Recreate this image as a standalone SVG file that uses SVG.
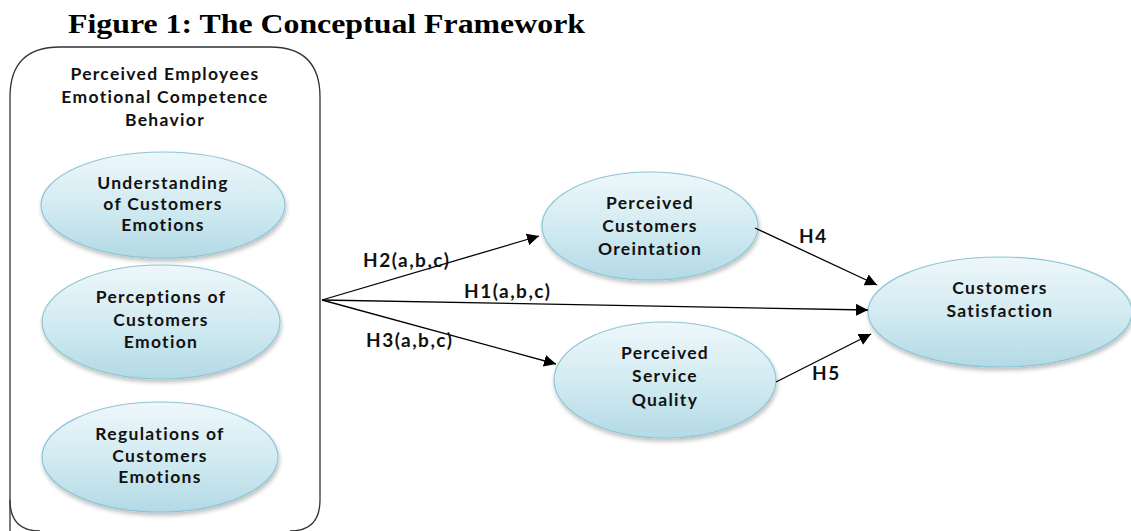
<svg xmlns="http://www.w3.org/2000/svg" width="1131" height="531" viewBox="0 0 1131 531">
<defs>
<linearGradient id="g" x1="0" y1="0" x2="0" y2="1">
<stop offset="0" stop-color="#eef7fa"/>
<stop offset="0.5" stop-color="#d3ebf2"/>
<stop offset="1" stop-color="#b3dae5"/>
</linearGradient>
<filter id="sh" x="-10%" y="-10%" width="125%" height="130%">
<feGaussianBlur in="SourceAlpha" stdDeviation="2"/>
<feOffset dx="1" dy="3"/>
<feComponentTransfer><feFuncA type="linear" slope="0.25"/></feComponentTransfer>
<feMerge><feMergeNode/><feMergeNode in="SourceGraphic"/></feMerge>
</filter>
<marker id="ah" viewBox="0 0 10 10" refX="10" refY="5" markerWidth="12" markerHeight="12" markerUnits="userSpaceOnUse" orient="auto">
<path d="M0,0 L10,5 L0,10 z" fill="#000"/>
</marker>
</defs>
<style>
.el{fill:url(#g);stroke:#8cc6d6;stroke-width:1.2;filter:url(#sh)}
.t{font-family:Lato,"Open Sans","Liberation Sans",sans-serif;font-weight:bold;font-size:17.5px;letter-spacing:1.3px;fill:#111;text-anchor:middle}
.lb{font-family:Lato,"Open Sans","Liberation Sans",sans-serif;font-weight:bold;font-size:19px;letter-spacing:1.5px;fill:#111}
.c{stroke:#000;stroke-width:1.3;fill:none;marker-end:url(#ah)}
</style>
<rect width="1131" height="531" fill="#fff"/>
<text x="68" y="33" font-family="Liberation Serif,serif" font-weight="bold" font-size="28" fill="#000" textLength="517" lengthAdjust="spacingAndGlyphs">Figure 1: The Conceptual Framework</text>
<g id="container">
<path d="M10,560 L10,97 Q10,47 60,47 L270,47 Q320,47 320,97 L320,500 Q320,531 290,531" fill="none" stroke="#333" stroke-width="1.3"/>
<path d="M10,500 Q10,531 40,531" fill="none" stroke="#333" stroke-width="1.3"/>
<text class="t" x="165" y="80">Perceived Employees</text>
<text class="t" x="165" y="103">Emotional Competence</text>
<text class="t" x="165" y="126">Behavior</text>
</g>
<g id="understanding">
<ellipse class="el" cx="163" cy="205" rx="122" ry="53"/>
<text class="t" x="163" y="189">Understanding</text>
<text class="t" x="163" y="210">of Customers</text>
<text class="t" x="163" y="231">Emotions</text>
</g>
<g id="perceptions">
<ellipse class="el" cx="161" cy="322" rx="119" ry="57"/>
<text class="t" x="161" y="303">Perceptions of</text>
<text class="t" x="161" y="326">Customers</text>
<text class="t" x="161" y="348">Emotion</text>
</g>
<g id="regulations">
<ellipse class="el" cx="160" cy="457" rx="118" ry="55"/>
<text class="t" x="160" y="440">Regulations of</text>
<text class="t" x="160" y="462">Customers</text>
<text class="t" x="160" y="483">Emotions</text>
</g>
<g id="pco">
<ellipse class="el" cx="650" cy="226" rx="108" ry="54"/>
<text class="t" x="650" y="209">Perceived</text>
<text class="t" x="650" y="232">Customers</text>
<text class="t" x="650" y="255">Oreintation</text>
</g>
<g id="psq">
<ellipse class="el" cx="665" cy="380" rx="111" ry="58"/>
<text class="t" x="665" y="359">Perceived</text>
<text class="t" x="665" y="382">Service</text>
<text class="t" x="665" y="406">Quality</text>
</g>
<g id="cs">
<ellipse class="el" cx="1000" cy="312" rx="132" ry="55"/>
<text class="t" x="1000" y="294">Customers</text>
<text class="t" x="1000" y="317">Satisfaction</text>
</g>
<g id="connectors">
<line class="c" x1="322" y1="300" x2="539" y2="236"/>
<line class="c" x1="322" y1="300" x2="868" y2="310"/>
<line class="c" x1="322" y1="300" x2="556" y2="364"/>
<line class="c" x1="755" y1="228" x2="877" y2="285"/>
<line class="c" x1="776" y1="382" x2="871" y2="334"/>
</g>
<g id="labels">
<text class="lb" x="363" y="267">H2(a,b,c)</text>
<text class="lb" x="464" y="298">H1(a,b,c)</text>
<text class="lb" x="366" y="347">H3(a,b,c)</text>
<text class="lb" x="799" y="243">H4</text>
<text class="lb" x="812" y="380">H5</text>
</g>
</svg>
